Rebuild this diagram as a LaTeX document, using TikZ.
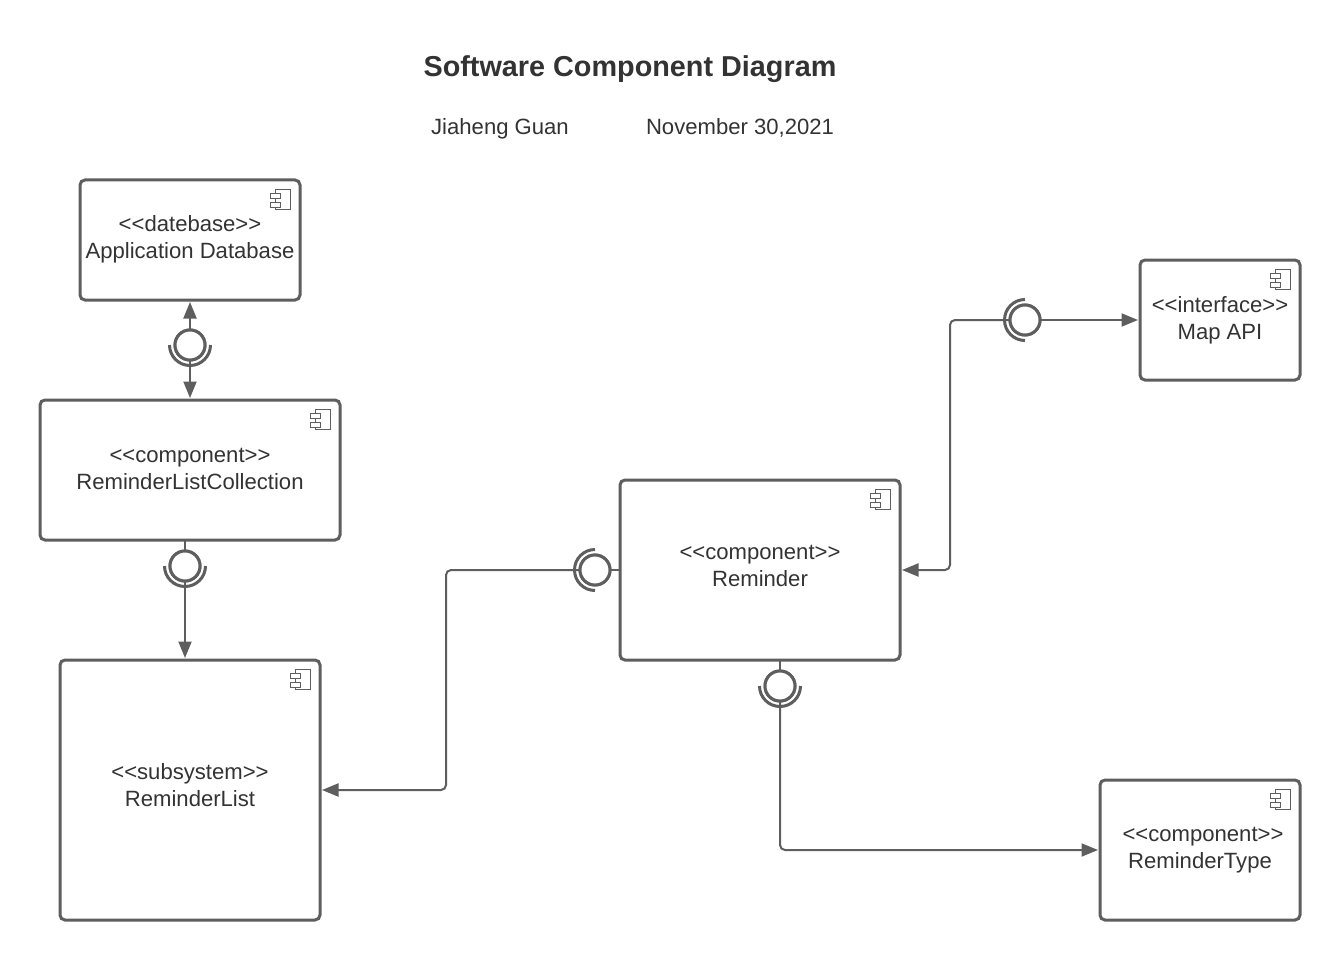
\documentclass[tikz,border=0pt]{standalone}
\usepackage{fontspec}
\setmainfont{Liberation Sans}
\usetikzlibrary{arrows.meta,calc}
\definecolor{lineC}{HTML}{5E5E5E}
\definecolor{textC}{HTML}{333333}
\tikzset{
  box/.style={draw=lineC,fill=white,line width=3pt,rounded corners=5pt,inner sep=0pt,outer sep=0pt,anchor=north west},
  boxtext/.style={text=textC,align=center,font=\fontsize{22.1}{27}\selectfont},
  ball/.style={circle,draw=lineC,fill=white,line width=3pt,minimum size=30pt,inner sep=0pt,outer sep=0pt},
  socket/.style={draw=lineC,line width=3pt},
  wire/.style={draw=lineC,line width=2pt,rounded corners=5pt},
  tip/.style={-{Triangle[length=16.5pt,width=13pt]},shorten >=2pt},
  icon/.style={draw=lineC,line width=1pt,fill=white},
  title/.style={text=textC,anchor=base,font=\fontsize{28.8}{34}\selectfont\bfseries},
  sub/.style={text=textC,anchor=base,font=\fontsize{22.1}{26}\selectfont}
}
\newcommand{\compicon}[1]{%
  \draw[icon] ([shift={(-25pt,-9.5pt)}]#1.north east) rectangle ([shift={(-9.5pt,-29.5pt)}]#1.north east);
  \draw[icon] ([shift={(-30pt,-13.5pt)}]#1.north east) rectangle ([shift={(-20pt,-18.5pt)}]#1.north east);
  \draw[icon] ([shift={(-30pt,-22.5pt)}]#1.north east) rectangle ([shift={(-20pt,-27.5pt)}]#1.north east);
}
\begin{document}
\begin{tikzpicture}[x=1pt,y=-1pt]
\useasboundingbox[fill=white] (0,0) rectangle (1340,960);
\node[title] (ttl) at (630,76.5) {Software Component Diagram};
\node[sub] (author) at (500,134.5) {Jiaheng Guan};
\node[sub] (date) at (740,134.5) {November 30,2021};
% boxes
\node[box,minimum width=220pt,minimum height=120pt] (db) at (80,180) {};
\node[boxtext] (dbt) at (190,239.5) {<{}<datebase>{}>\\Application Database};
\node[box,minimum width=300pt,minimum height=140pt] (rlc) at (40,400) {};
\node[boxtext] (rlct) at (190,468.5) {<{}<component>{}>\\ReminderListCollection};
\node[box,minimum width=260pt,minimum height=260pt] (rl) at (60,660) {};
\node[boxtext] (rlt) at (190,785.5) {<{}<subsystem>{}>\\ReminderList};
\node[box,minimum width=280pt,minimum height=180pt] (rem) at (620,480) {};
\node[boxtext] (remt) at (760,566) {<{}<component>{}>\\Reminder};
\node[box,minimum width=160pt,minimum height=120pt] (map) at (1140,260) {};
\node[boxtext] (mapt) at (1220,320.5) {<{}<interface>{}>\\Map API};
\node[box,minimum width=200pt,minimum height=140pt] (rt) at (1100,780) {};
\node[boxtext] (rtt) at (1200,850) {\hspace*{6pt}<{}<component>{}>\\ReminderType};
\compicon{db}\compicon{rlc}\compicon{rl}\compicon{rem}\compicon{map}\compicon{rt}
% interface balls
\node[ball] (b1) at (190,345) {};
\node[ball] (b2) at (185,566) {};
\node[ball] (b3) at (595,570) {};
\node[ball] (b4) at (780,686) {};
\node[ball] (b5) at (1025,320) {};
% routing points
\coordinate (c3a) at (446,570);
\coordinate (c3b) at (446,790);
\coordinate (c4a) at (780,850);
\coordinate (c5a) at (950,320);
\coordinate (c5b) at (950,570);
% connectors
\draw[wire,tip] (b1.north) -- (db.south);
\draw[wire,tip] (b1.south) -- (rlc.north);
\draw[wire] (rlc.south -| b2) -- (b2.north);
\draw[wire,tip] (b2.south) -- (b2.south |- rl.north);
\draw[wire] (b3.east) -- (rem.west);
\draw[wire,tip] (b3.west) -- (c3a) -- (c3b) -- (rl.east |- c3b);
\draw[wire] (rem.south -| b4) -- (b4.north);
\draw[wire,tip] (b4.south) -- (c4a) -- (c4a -| rt.west);
\draw[wire,tip] (b5.west) -- (c5a) -- (c5b) -- (rem.east);
\draw[wire,tip] (b5.east) -- (map.west);
% balls above wires, then sockets
\foreach \b in {b1,b2,b3,b4,b5} \node[ball] at (\b) {};
\draw[socket] ($(b1.center)+(-20.5pt,0)$) arc[start angle=180,end angle=360,radius=20.5pt];
\draw[socket] ($(b2.center)+(-20.5pt,0)$) arc[start angle=180,end angle=360,radius=20.5pt];
\draw[socket] ($(b4.center)+(-20.5pt,0)$) arc[start angle=180,end angle=360,radius=20.5pt];
\draw[socket] ($(b3.center)+(0,20.5pt)$) arc[start angle=90,end angle=270,radius=20.5pt];
\draw[socket] ($(b5.center)+(0,20.5pt)$) arc[start angle=90,end angle=270,radius=20.5pt];
\end{tikzpicture}
\end{document}
